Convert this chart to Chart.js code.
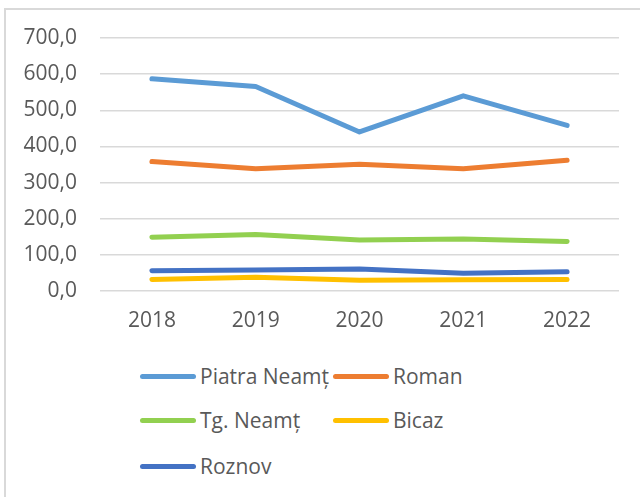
<!DOCTYPE html>
<html>
<head>
<meta charset="utf-8">
<script src="https://cdn.jsdelivr.net/npm/chart.js@4/dist/chart.umd.min.js"></script>
<style>
  html, body { margin: 0; padding: 0; background: #fff; }
  #wrap { position: relative; width: 640px; height: 497px; overflow: hidden; }
  #frame { position: absolute; left: 4px; top: 8px; width: 700px; height: 600px;
           border-left: 2px solid #D9D9D9; border-top: 2px solid #D9D9D9; }
  #c { position: absolute; left: 0; top: 0; }
  .lg { position: absolute; font-family: "Open Sans", sans-serif; font-size: 21px; color: #595959;
        white-space: nowrap; line-height: 24px; }
  .lg .sw { position: absolute; left: 0; top: 10px; width: 56px; height: 5px; border-radius: 3px; }
  .lg span.t { position: absolute; left: 60px; top: 0; }
</style>
</head>
<body>
<div id="wrap">
  <div id="frame"></div>
  <canvas id="c" width="640" height="345"></canvas>
  <div id="legend"></div>
</div>
<script>
const categories = ["2018", "2019", "2020", "2021", "2022"];
const seriesNames = ["Piatra Neamț", "Roman", "Tg. Neamț", "Bicaz", "Roznov"];
const piatraNeamt = [587, 566, 440, 540, 458];
const roman = [358, 338, 351, 338, 362];
const tgNeamt = [149, 156, 141, 144, 137];
const bicaz = [32, 38, 30, 31, 32];
const roznov = [56, 58, 61, 49, 53];
const colors = ["#5B9BD5", "#ED7D31", "#92D050", "#FFC000", "#4472C4"];
const yMin = 0, yMax = 700, yStep = 100;

const values = [piatraNeamt, roman, tgNeamt, bicaz, roznov];
// draw order: Roznov drawn before Bicaz? keep natural order
const datasets = seriesNames.map((n, i) => ({
  label: n,
  data: values[i],
  borderColor: colors[i],
  backgroundColor: colors[i],
  borderWidth: 5,
  pointRadius: 0,
  pointHoverRadius: 0,
  tension: 0,
  borderCapStyle: 'round',
  borderJoinStyle: 'round',
  fill: false
}));

const font = { family: "'Open Sans', sans-serif", size: 21 };

new Chart(document.getElementById('c'), {
  type: 'line',
  data: { labels: categories, datasets },
  options: {
    responsive: false,
    animation: false,
    events: [],
    layout: { padding: { top: 38, right: 21, left: 0, bottom: 0 } },
    plugins: { legend: { display: false }, tooltip: { enabled: false } },
    scales: {
      x: {
        offset: true,
        grid: { display: false, drawTicks: false },
        border: { display: false },
        ticks: { color: '#595959', font, padding: 17, maxRotation: 0 },
        afterFit: s => { s.height = 54; }
      },
      y: {
        min: yMin, max: yMax,
        grid: { color: '#D9D9D9', lineWidth: 1.5, drawTicks: false },
        border: { display: false },
        ticks: {
          stepSize: yStep, color: '#595959', font, padding: 23,
          callback: v => v.toFixed(1).replace('.', ',')
        },
        afterFit: s => { s.width = 100; }
      }
    }
  }
});

// HTML legend
const legendPos = [[140, 364], [333, 364], [140, 408], [333, 408], [140, 454]];
const lg = document.getElementById('legend');
seriesNames.forEach((n, i) => {
  const d = document.createElement('div');
  d.className = 'lg';
  d.style.left = legendPos[i][0] + 'px';
  d.style.top = legendPos[i][1] + 'px';
  d.innerHTML = '<div class="sw" style="background:' + colors[i] + '"></div><span class="t"></span>';
  d.querySelector('.t').textContent = n;
  lg.appendChild(d);
});
</script>
</body>
</html>
